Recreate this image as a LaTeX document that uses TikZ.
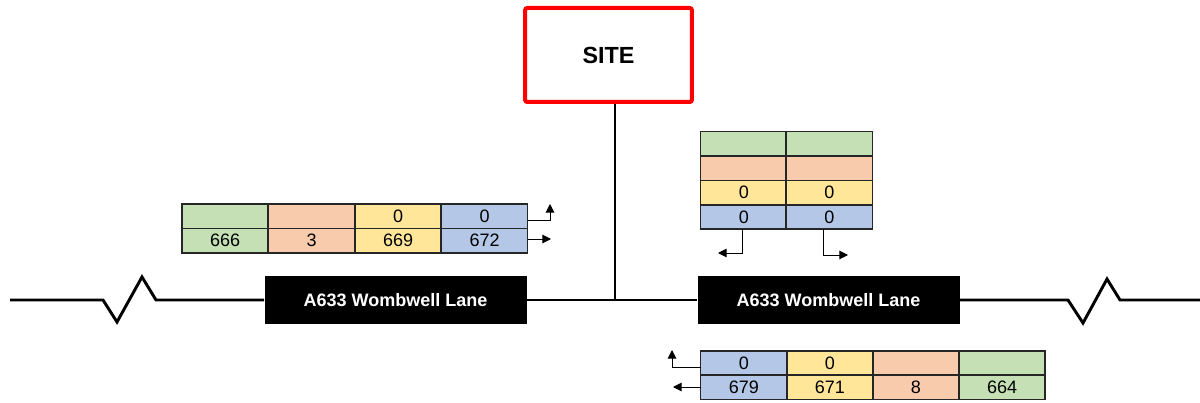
\documentclass[tikz,border=0pt]{standalone}
\usepackage{fontspec}
\setmainfont{Liberation Sans}
\usetikzlibrary{arrows.meta,calc}
\definecolor{cgreen}{HTML}{C5E0B4}
\definecolor{corange}{HTML}{F8CBAD}
\definecolor{cyellow}{HTML}{FFE699}
\definecolor{cblue}{HTML}{B4C7E7}
\definecolor{cborder}{HTML}{262626}
\begin{document}
\begin{tikzpicture}[x=0.75pt,y=-0.75pt,
  cell/.style={draw=cborder,line width=1.1pt,inner sep=0pt,outer sep=0pt,anchor=north west,
    minimum width=64.6pt,minimum height=18.3pt,font=\fontsize{13.5}{15}\selectfont},
  g/.style={cell,fill=cgreen},
  o/.style={cell,fill=corange},
  yy/.style={cell,fill=cyellow},
  b/.style={cell,fill=cblue},
  road/.style={line width=2.2pt,line join=miter},
  roadbox/.style={fill=black,text=white,inner sep=0pt,minimum width=196.5pt,minimum height=36pt,
    font=\bfseries\fontsize{13.5}{16}\selectfont},
  arr/.style={line width=0.75pt,-{Triangle[length=6.5pt,width=6.5pt]}}]
\useasboundingbox (0,0) rectangle (1200,403);

% site
\node[draw=red,line width=3pt,rounded corners=1.5pt,minimum width=125pt,minimum height=70.5pt,
  font=\bfseries\fontsize{17.5}{20}\selectfont] (SITE) at (608.5,55) {SITE};

% road
\node[roadbox] (LB) at (395.5,300) {A633 Wombwell Lane};
\node[roadbox] (RB) at (828.5,300) {A633 Wombwell Lane};
\coordinate (j) at (615,300);
\coordinate (l0) at (10,300);
\coordinate (r0) at (1200,300);
\draw[road] (l0) -- (103,300) -- (117,322) -- (142,277) -- (156,300) -- (LB.west);
\draw[road] (LB.east) -- (RB.west);
\draw[road] (RB.east) -- (1068,300) -- (1083,323) -- (1107,279) -- (1120,300) -- (r0);
\draw[road] (j) -- (j |- SITE.south);

% left table
\node[g]  (L11) at (182,204) {};
\node[o]  (L12) at (268.5,204) {};
\node[yy] (L13) at (355,204) {0};
\node[b]  (L14) at (441.5,204) {0};
\node[g]  (L21) at (182,228.4) {666};
\node[o]  (L22) at (268.5,228.4) {3};
\node[yy] (L23) at (355,228.4) {669};
\node[b]  (L24) at (441.5,228.4) {672};
\coordinate (la1) at (550,204);
\coordinate (la2) at (551,239);
\draw[arr] ([yshift=-3pt]L14.east) -| (la1);
\draw[arr] (L24.east |- la2) -- (la2);

% right table
\node[g]  (R11) at (700.7,131.6) {};
\node[g]  (R12) at (786.2,131.6) {};
\node[o]  (R21) at (700.7,156) {};
\node[o]  (R22) at (786.2,156) {};
\node[yy] (R31) at (700.7,180.4) {0};
\node[yy] (R32) at (786.2,180.4) {0};
\node[b]  (R41) at (700.7,204.8) {0};
\node[b]  (R42) at (786.2,204.8) {0};
\coordinate (ra1) at (718,253);
\coordinate (ra2) at (848,255);
\draw[arr] ([xshift=-1pt]R41.south) |- (ra1);
\draw[arr] ([xshift=-4pt]R42.south) |- (ra2);

% bottom table
\node[b]  (B11) at (700.7,351) {0};
\node[yy] (B12) at (786.8,351) {0};
\node[o]  (B13) at (872.9,351) {};
\node[g]  (B14) at (959,351) {};
\node[b]  (B21) at (700.7,375.2) {679};
\node[yy] (B22) at (786.8,375.2) {671};
\node[o]  (B23) at (872.9,375.2) {8};
\node[g]  (B24) at (959,375.2) {664};
\coordinate (ba1) at (672,350);
\coordinate (ba2) at (673,387);
\draw[arr] ([yshift=-3.5pt]B11.west) -| (ba1);
\draw[arr] (B21.west |- ba2) -- (ba2);
\end{tikzpicture}
\end{document}
